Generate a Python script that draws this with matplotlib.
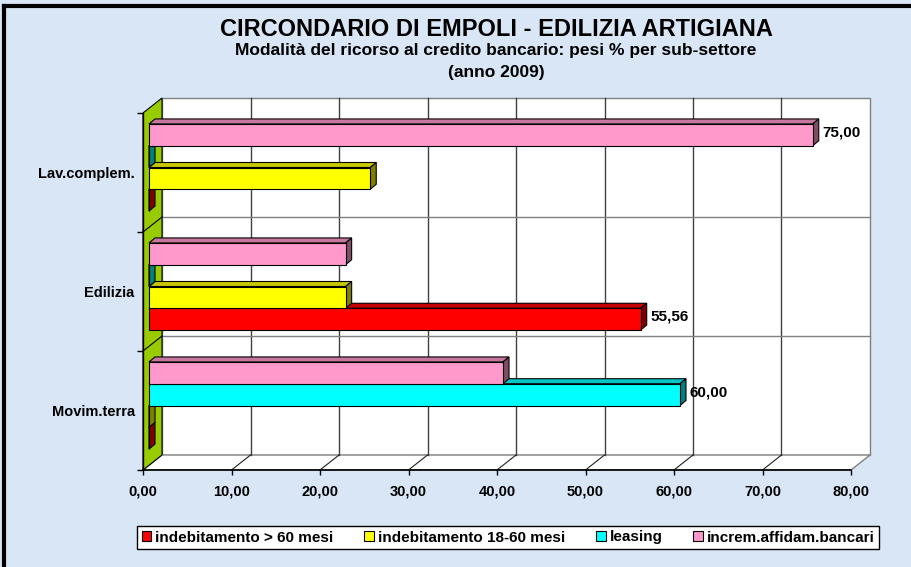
import matplotlib
matplotlib.use('Agg')
import matplotlib.pyplot as plt
from matplotlib.patches import Polygon, Patch
from matplotlib.lines import Line2D
import numpy as np

# dati: pesi % per sub-settore (anno 2009)
settori = ['Movim.terra', 'Edilizia', 'Lav.complem.']
serie = ['indebitamento > 60 mesi', 'indebitamento 18-60 mesi', 'leasing', 'increm.affidam.bancari']
indeb_lungo = [0.0, 55.56, 0.0]
indeb_medio = [0.0, 22.22, 25.00]
leasing = [60.00, 0.0, 0.0]
increm_affidam = [40.00, 22.22, 75.00]
valori = [indeb_lungo, indeb_medio, leasing, increm_affidam]
x_ticks = np.arange(0, 81, 10)

colori = ['#FF0000', '#FFFF00', '#00FFFF', '#FF99CC']
sfondo = '#D8E6F5'
verde = '#99CC00'

plt.rcParams['font.family'] = ['Liberation Sans', 'DejaVu Sans']
plt.rcParams['font.weight'] = 'bold'


def scurisci(c, f):
    r, g, b = matplotlib.colors.to_rgb(c)
    return (r * f, g * f, b * f)


fig = plt.figure(figsize=(9.11, 5.67), dpi=100)
fig.patch.set_facecolor(sfondo)
ax = fig.add_axes([143 / 911, 97 / 567, 708 / 911, 357 / 567])
ax.set_xlim(0, 80)
ax.set_ylim(0, 3)
ax.patch.set_visible(False)

# profondita' in pixel convertita in unita' dati
sx = 708 / 80
sy = 357 / 3


def prof(px, py):
    return px / sx, py / sy


wx, wy = prof(19, 15)   # parete di fondo
bx, by = prof(6, 5)     # piano frontale delle barre
dx, dy = prof(6, 5)     # spessore delle barre

# pareti e pavimento
ax.add_patch(Polygon([(wx, wy), (80 + wx, wy), (80 + wx, 3 + wy), (wx, 3 + wy)],
                     closed=True, fc='white', ec='#808080', lw=1, zorder=0, clip_on=False))
ax.add_patch(Polygon([(0, 0), (80, 0), (80 + wx, wy), (wx, wy)],
                     closed=True, fc='white', ec='#808080', lw=1, zorder=0, clip_on=False))
for t in x_ticks[1:-1]:
    ax.plot([t + wx, t + wx], [wy, 3 + wy], color='#404040', lw=1, zorder=0.2, clip_on=False)
    ax.plot([t, t + wx], [0, wy], color='#202020', lw=0.8, zorder=0.2, clip_on=False)
for k in [1, 2]:
    ax.plot([wx, 80 + wx], [k + wy, k + wy], color='#808080', lw=1, zorder=0.2, clip_on=False)
ax.add_patch(Polygon([(0, 0), (wx, wy), (wx, 3 + wy), (0, 3)],
                     closed=True, fc=verde, ec='black', lw=0.8, zorder=0.5, clip_on=False))
for k in [1, 2]:
    ax.plot([0, wx], [k, k + wy], color='black', lw=0.8, zorder=0.6, clip_on=False)

# barre 3D
h = 0.183
for k in range(len(settori)):
    vals_k = [valori[j][k] for j in range(4)]
    jmax = int(np.argmax(vals_k))
    for j in range(4):
        v = valori[j][k]
        yc = k + 0.5 + (j - 1.5) * h + by
        z = 2 + (k * 4 + j) * 0.01
        ax.barh(yc, v, height=h, left=bx, color=colori[j], edgecolor='black',
                lw=0.8, zorder=z + 0.005, clip_on=False)
        y0, y1 = yc - h / 2, yc + h / 2
        x1 = bx + v
        ax.add_patch(Polygon([(bx, y1), (x1, y1), (x1 + dx, y1 + dy), (bx + dx, y1 + dy)],
                             closed=True, fc=scurisci(colori[j], 0.78), ec='black',
                             lw=0.8, zorder=z, clip_on=False))
        ax.add_patch(Polygon([(x1, y0), (x1 + dx, y0 + dy), (x1 + dx, y1 + dy), (x1, y1)],
                             closed=True, fc=scurisci(colori[j], 0.5), ec='black',
                             lw=0.8, zorder=z, clip_on=False))
        if j == jmax:
            ax.text(x1 + dx + 0.4, yc + dy / 2, f'{v:.2f}'.replace('.', ','),
                    ha='left', va='center', fontsize=11, fontweight='bold', zorder=5)

# assi
ax.set_xticks(x_ticks)
ax.set_xticklabels([f'{t:.2f}'.replace('.', ',') for t in x_ticks])
ax.set_yticks([0, 1, 2, 3])
ax.set_yticklabels([])
ax.set_yticks(np.arange(3) + 0.5, minor=True)
ax.set_yticklabels(settori, minor=True)
ax.tick_params(axis='y', which='minor', length=0, pad=6, labelsize=10.5)
ax.tick_params(axis='y', which='major', length=4.3, width=1, color='black')
ax.tick_params(axis='x', length=3.6, width=1, pad=7, labelsize=10.5)
for s in ['top', 'right']:
    ax.spines[s].set_visible(False)
ax.spines['left'].set_linewidth(1)
ax.spines['bottom'].set_linewidth(1.2)
ax.spines['left'].set_zorder(0.7)

# titoli
fig.text(496 / 911, 1 - 30 / 567, 'CIRCONDARIO DI EMPOLI - EDILIZIA ARTIGIANA',
         ha='center', va='center', fontsize=17, fontweight='bold')
fig.text(496 / 911, 1 - 50 / 567, 'Modalità del ricorso al credito bancario: pesi % per sub-settore',
         ha='center', va='center', fontsize=12.5, fontweight='bold')
fig.text(496 / 911, 1 - 72 / 567, '(anno 2009)',
         ha='center', va='center', fontsize=12.5, fontweight='bold')

# legenda
maniglie = [Patch(facecolor=c, edgecolor='black', lw=0.8) for c in colori]
leg = fig.legend(maniglie, serie, loc='center', bbox_to_anchor=(508 / 911, 1 - 537.5 / 567),
                 ncol=4, frameon=True, fancybox=False, edgecolor='black', framealpha=1,
                 fontsize=11, handlelength=0.65, handleheight=0.65, handletextpad=0.25,
                 columnspacing=2.0, borderpad=0.3)
leg.get_frame().set_linewidth(1)

# cornice
fig.add_artist(Line2D([4 / 911, 1], [1 - 6 / 567, 1 - 6 / 567], transform=fig.transFigure,
                      color='black', lw=3))
fig.add_artist(Line2D([4 / 911, 4 / 911], [0, 1 - 6 / 567], transform=fig.transFigure,
                      color='black', lw=3))

fig.savefig('out.png', dpi=100, facecolor=fig.get_facecolor())
